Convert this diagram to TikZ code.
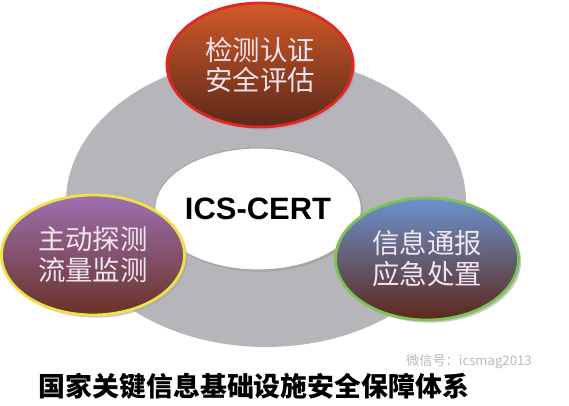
\documentclass[tikz,border=0pt]{standalone}
\usepackage{fontspec}
\usepackage{tikz}
\usetikzlibrary{shapes.geometric, shadows}
\newfontfamily\cjk{Noto Sans CJK SC}
\newfontfamily\latin{Liberation Sans}
\definecolor{ringgray}{RGB}{182,182,186}
\definecolor{rustred}{RGB}{210,90,40}
\definecolor{darkbrown}{RGB}{92,40,26}
\definecolor{lilac}{RGB}{158,112,178}
\definecolor{plumbrown}{RGB}{104,50,38}
\definecolor{skyblue}{RGB}{108,146,206}
\definecolor{redrim}{RGB}{226,40,36}
\definecolor{yellowrim}{RGB}{238,226,70}
\definecolor{greenrim}{RGB}{126,194,86}
\definecolor{paletext}{RGB}{242,230,238}
\tikzset{
    bubble/.style={ellipse, inner sep=0pt, line width=1.6pt, shading angle=50,
        align=center, text=paletext, font=\cjk\fontsize{15.6}{17.6}\selectfont,
        drop shadow={shadow xshift=1.5pt, shadow yshift=-1.5pt, fill=gray!70, opacity=0.6}},
    hub/.style={ellipse, inner sep=0pt, fill=white, draw=gray!70, line width=0.6pt,
        drop shadow={shadow xshift=1pt, shadow yshift=-1pt, fill=gray!80, opacity=0.5}}
}

\begin{document}
\begin{tikzpicture}[x=0.02cm, y=-0.02cm]
    \useasboundingbox (0,0) rectangle (569,406);

    \node[ellipse, fill=ringgray, minimum width=8.0cm, minimum height=5.8cm] (ring) at (266,202) {};
    \node[hub, minimum width=3.68cm, minimum height=2.44cm,
        font=\latin\bfseries\fontsize{17.6}{20}\selectfont] (cert) at (258,209) {ICS-CERT};

    \node[bubble, draw=redrim, bottom color=darkbrown, top color=rustred,
        minimum width=3.72cm, minimum height=2.48cm] (detect) at (260,65) {检测认证\\安全评估};
    \node[bubble, draw=yellowrim, bottom color=plumbrown, top color=lilac,
        minimum width=3.66cm, minimum height=2.4cm] (probe) at (93,255) {主动探测\\流量监测};
    \node[bubble, draw=greenrim, bottom color=darkbrown, top color=skyblue,
        minimum width=3.66cm, minimum height=2.44cm] (notify) at (427,259) {信息通报\\应急处置};

    \node[font=\cjk\bfseries\fontsize{15.3}{18}\selectfont] (title) at (254,386) {国家关键信息基础设施安全保障体系};
    \node[anchor=west, text=gray!55, font=\cjk\fontsize{7.5}{9}\selectfont] (mark) at (400,362) {微信号：icsmag2013};
\end{tikzpicture}
\end{document}
